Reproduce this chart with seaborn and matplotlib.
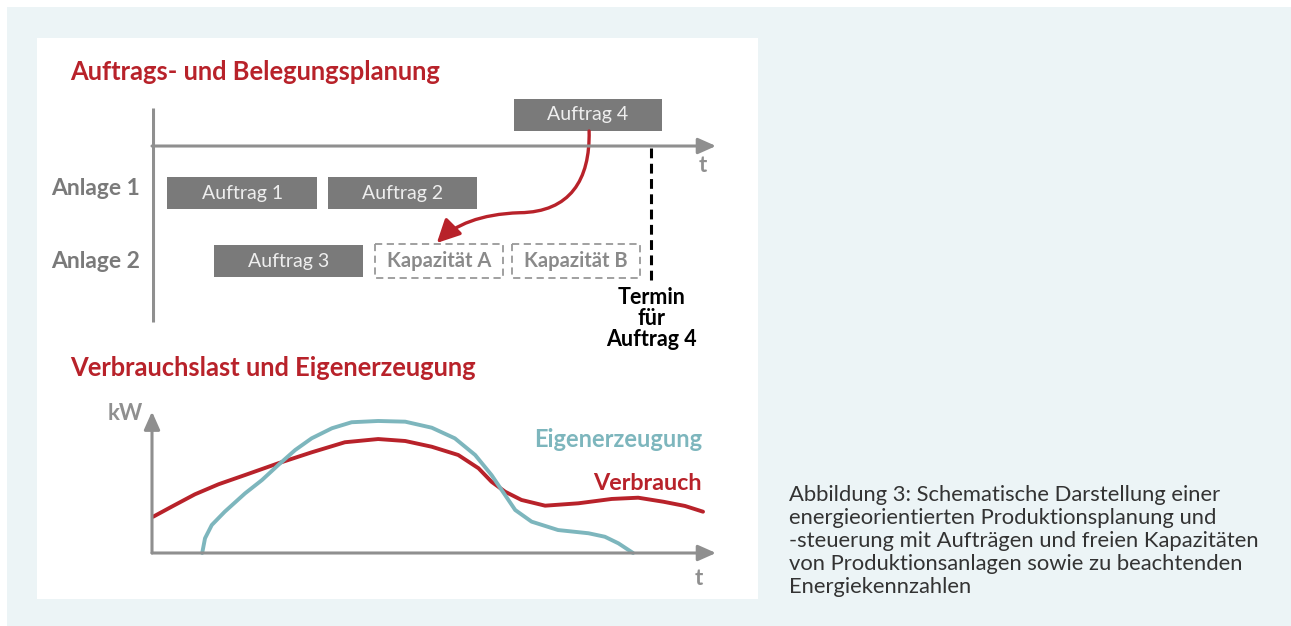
import numpy as np
import pandas as pd
import seaborn as sns
import matplotlib.pyplot as plt
from matplotlib.patches import Rectangle, FancyArrowPatch
from matplotlib.path import Path

# ---- data ----
# Gantt: name, row (1 = Anlage 1, 2 = Anlage 2, ~0 = neuer Auftrag), start, dauer (t-Einheiten 0..100)
auftrag_namen = ["Auftrag 1", "Auftrag 2", "Auftrag 3", "Auftrag 4"]
auftrag_zeile = [1, 1, 2, -0.15]
auftrag_start = [2.7, 31.2, 11.0, 64.2]
auftrag_dauer = [26.6, 26.4, 26.4, 26.2]

kapazitaet_namen = ["Kapazität A", "Kapazität B"]
kapazitaet_start = [39.5, 63.8]
kapazitaet_dauer = [22.7, 22.7]

anlagen = ["Anlage 1", "Anlage 2"]
termin_t = 88.5

# Lastkurven (t, kW)
verbrauch_t = [0.2, 3.5, 7.6, 11.8, 16.5, 22.4, 28.3, 34.2, 40.1, 44.9, 49.6,
               54.3, 57.9, 60.2, 62.6, 65.5, 69.7, 75.6, 81.5, 86.2, 90.7,
               94.5, 97.7]
verbrauch_kw = [25.9, 33.1, 41.9, 49.1, 55.7, 64.1, 71.9, 79.1, 81.4, 80.0, 75.9,
                70.0, 60.5, 50.9, 43.8, 37.9, 33.8, 35.5, 38.6, 39.5, 36.6,
                33.6, 29.5]

eigen_t = [8.9, 9.4, 10.6, 12.9, 16.5, 19.5, 22.4, 25.4, 28.3, 31.9, 35.4, 40.1,
           44.9, 49.6, 53.7, 57.3, 60.2, 62.6, 64.4, 67.3, 72.0, 77.4, 80.3,
           82.7, 85.3]
eigen_kw = [0.0, 10.5, 20.0, 29.5, 42.6, 52.1, 62.9, 73.6, 81.9, 89.1, 93.4, 94.3,
            93.8, 89.5, 81.9, 70.0, 55.7, 41.4, 30.7, 22.4, 16.4, 14.1, 11.6,
            6.9, 0.0]

caption = ("Abbildung 3: Schematische Darstellung einer\n"
           "energieorientierten Produktionsplanung und\n"
           "-steuerung mit Aufträgen und freien Kapazitäten\n"
           "von Produktionsanlagen sowie zu beachtenden\n"
           "Energiekennzahlen")

RED = "#b8222a"
TEAL = "#7db6bd"
GREY = "#7a7a7a"
AXC = "#8f8f8f"

sns.set_theme(style="white")
plt.rcParams['font.family'] = ['Lato', 'DejaVu Sans']

W, H = 1291, 626
fig = plt.figure(figsize=(W / 100, H / 100), dpi=100)
fig.patch.set_facecolor("white")

def fbox(x0, y0, x1, y1):
    # pixel box (top-left origin) -> figure fraction rect
    return [x0 / W, 1 - y1 / H, (x1 - x0) / W, (y1 - y0) / H]

# background panels
bg = fbox(7, 7, W, H)
fig.patches.append(Rectangle(bg[:2], bg[2], bg[3], transform=fig.transFigure,
                             facecolor="#ecf4f6", edgecolor="none", zorder=-2))
wp = fbox(37, 38, 758, 599)
fig.patches.append(Rectangle(wp[:2], wp[2], wp[3], transform=fig.transFigure,
                             facecolor="white", edgecolor="none", zorder=-1))

# titles + caption
fig.text(70 / W, 1 - 72 / H, "Auftrags- und Belegungsplanung", color=RED,
         fontsize=18.4, fontweight="bold", va="center", ha="left")
fig.text(70 / W, 1 - 368 / H, "Verbrauchslast und Eigenerzeugung", color=RED,
         fontsize=18.4, fontweight="bold", va="center", ha="left")
fig.text(789 / W, 1 - 541 / H, caption, color="#333333", fontsize=15.8,
         va="center", ha="left", linespacing=1.19)

# ---- top: Gantt ----
ax = fig.add_axes(fbox(152, 91, 716, 342.6))
ax.set_xlim(0, 100)
ax.set_ylim(3.2, -0.5)
ax.axis("off")

ax.barh(auftrag_zeile, auftrag_dauer, left=auftrag_start, height=0.47,
        color=GREY, edgecolor="none")
for n, r, s, d in zip(auftrag_namen, auftrag_zeile, auftrag_start, auftrag_dauer):
    ax.text(s + d / 2, r, n, color="#eeeeee", fontsize=14, ha="center", va="center")

ax.barh([2] * len(kapazitaet_namen), kapazitaet_dauer, left=kapazitaet_start,
        height=0.5, color="white", edgecolor="#999999", linestyle=(0, (4, 2.5)),
        linewidth=1.3)
for n, s, d in zip(kapazitaet_namen, kapazitaet_start, kapazitaet_dauer):
    ax.text(s + d / 2, 2, n, color="#8a8a8a", fontsize=14.5, fontweight="bold",
            ha="center", va="center")

for i, a in enumerate(anlagen):
    ax.text(-2.1, i + 1 - 0.06 * (i == 0), a, color=GREY, fontsize=16.5,
            fontweight="bold", ha="right", va="center")

# axes of the schematic
ax.plot([0.15, 0.15], [-0.25, 2.9], color=AXC, lw=2.2, solid_capstyle="butt")
ax.annotate("", xy=(100, 0.309), xytext=(0, 0.309),
            arrowprops=dict(arrowstyle="-|>,head_length=0.9,head_width=0.4",
                            color=AXC, lw=2.2, shrinkA=0, shrinkB=0))
ax.text(97.7, 0.59, "t", color=AXC, fontsize=16, fontweight="bold",
        ha="center", va="center")

ax.plot([termin_t, termin_t], [0.34, 2.31], color="black", lw=2.2,
        linestyle=(0, (3.2, 1.8)))
ax.text(termin_t, 2.84, "Termin\nfür\nAuftrag 4", color="black", fontsize=15.5,
        fontweight="bold", ha="center", va="center", linespacing=1.0)

# red arrow: Auftrag 4 -> Kapazität A
verts = [(77.5, 0.088), (77.7, 0.81), (74.1, 1.28), (65.2, 1.29),
         (58.2, 1.31), (53.7, 1.47), (50.5, 1.735)]
codes = [Path.MOVETO] + [Path.CURVE4] * 6
arr = FancyArrowPatch(path=Path(verts, codes),
                      arrowstyle="-|>,head_length=0.7,head_width=0.35",
                      mutation_scale=20, color=RED, lw=2.4)
ax.add_patch(arr)

# ---- bottom: load curves ----
bx = fig.add_axes(fbox(152, 413, 716, 553))
bx.set_xlim(0, 100)
bx.set_ylim(0, 100)
bx.axis("off")

df_v = pd.DataFrame({"t": verbrauch_t, "kW": verbrauch_kw})
df_e = pd.DataFrame({"t": eigen_t, "kW": eigen_kw})
sns.lineplot(data=df_e, x="t", y="kW", ax=bx, color=TEAL, lw=2.8, sort=False,
             estimator=None, clip_on=False, solid_joinstyle="round")
sns.lineplot(data=df_v, x="t", y="kW", ax=bx, color=RED, lw=2.8, sort=False,
             estimator=None, clip_on=False, solid_joinstyle="round", zorder=1.9)

bx.annotate("", xy=(100, 0), xytext=(0, 0), annotation_clip=False,
            arrowprops=dict(arrowstyle="-|>,head_length=0.9,head_width=0.4",
                            color=AXC, lw=2.2, shrinkA=0, shrinkB=0))
bx.annotate("", xy=(0, 101), xytext=(0, 0), annotation_clip=False,
            arrowprops=dict(arrowstyle="-|>,head_length=0.9,head_width=0.4",
                            color=AXC, lw=2.2, shrinkA=0, shrinkB=0))
bx.text(-1.6, 100, "kW", color=AXC, fontsize=16, fontweight="bold",
        ha="right", va="center")
bx.text(97, -17.9, "t", color=AXC, fontsize=16, fontweight="bold",
        ha="center", va="center")

bx.text(97.5, 81, "Eigenerzeugung", color=TEAL, fontsize=17, fontweight="bold",
        ha="right", va="center")
bx.text(97.5, 50, "Verbrauch", color=RED, fontsize=16.8, fontweight="bold",
        ha="right", va="center")

fig.savefig("out.png", dpi=100)
